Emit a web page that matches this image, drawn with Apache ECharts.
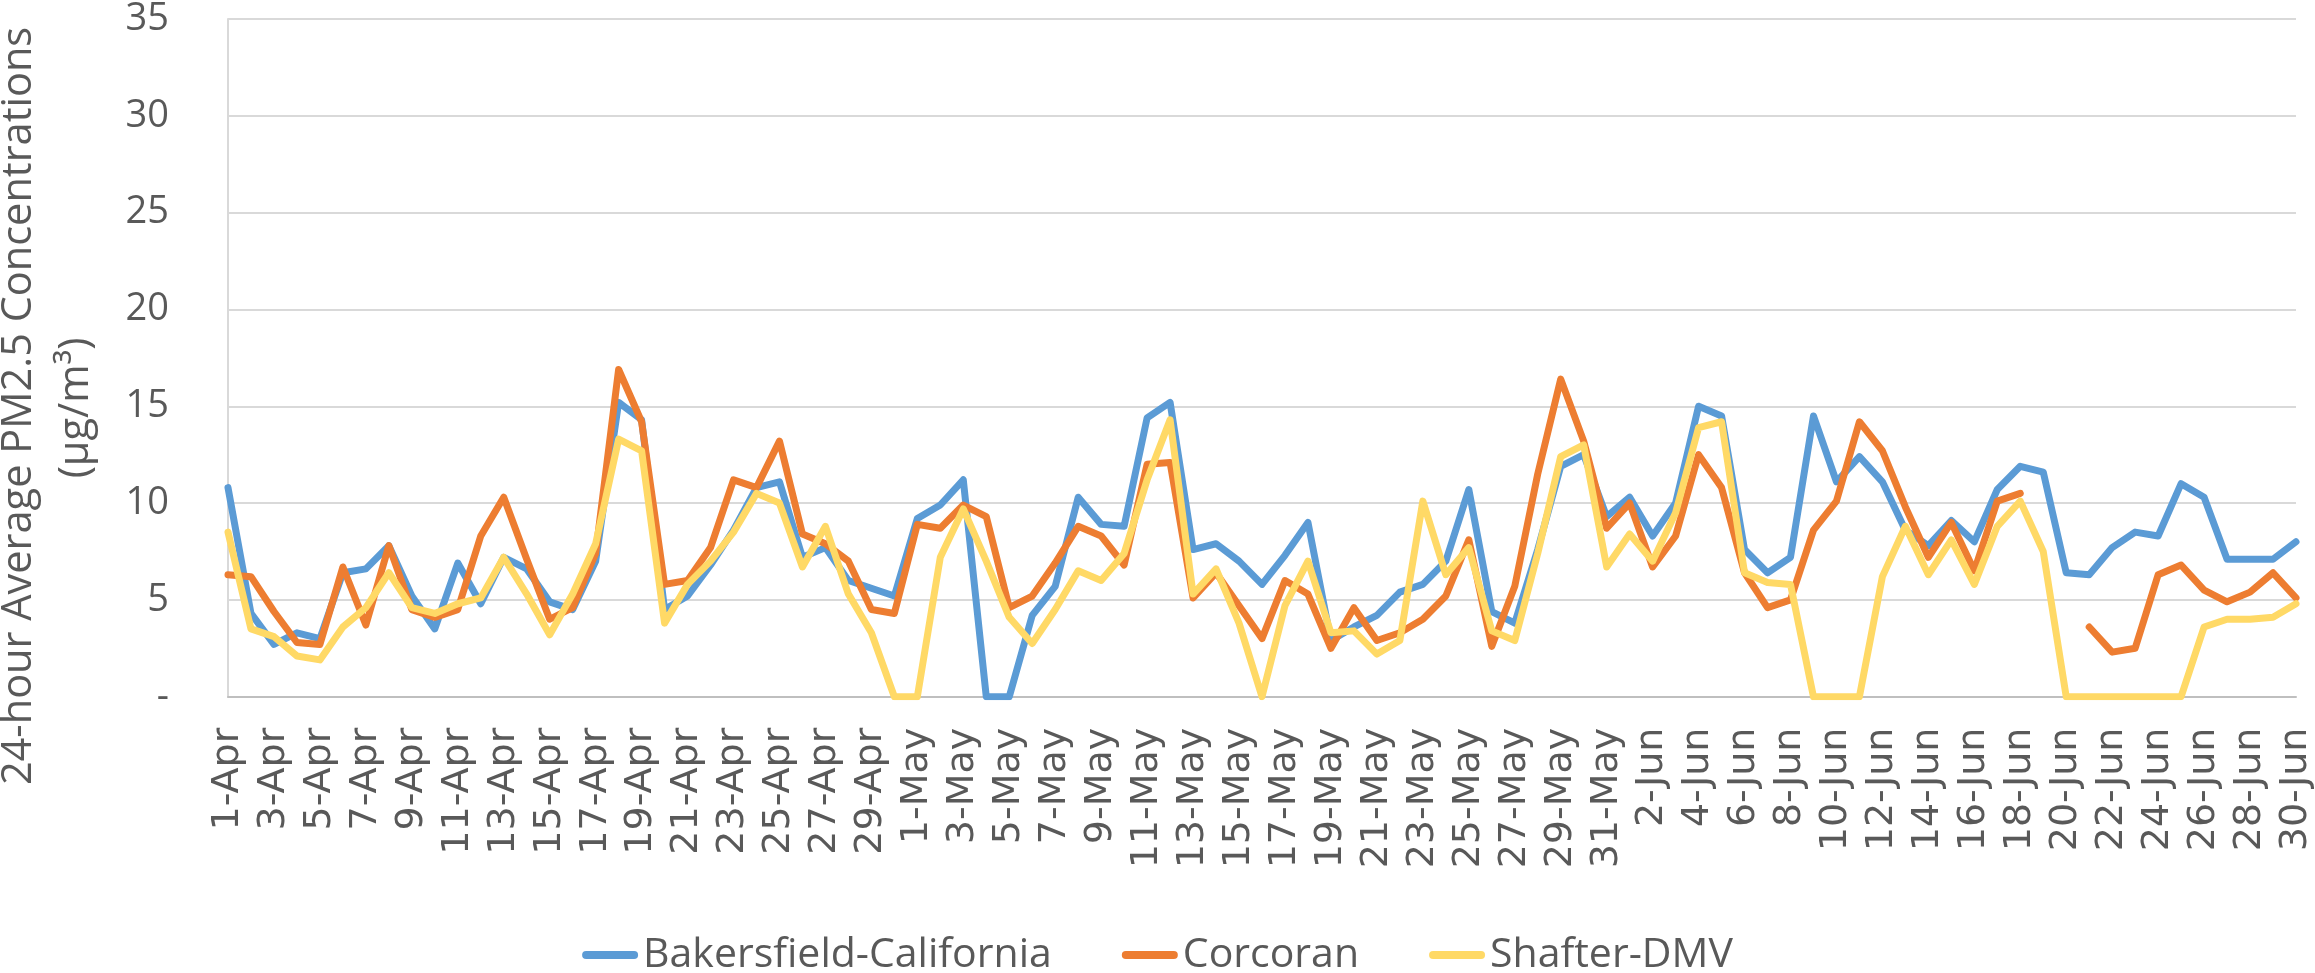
<!DOCTYPE html>
<html>
<head>
<meta charset="utf-8">
<script src="https://cdn.jsdelivr.net/npm/echarts@6/dist/echarts.min.js"></script>
<style>
html,body{margin:0;padding:0;background:#fff;}
#chart{width:2315px;height:973px;}
</style>
</head>
<body>
<div id="chart"></div>
<script>
const categories = [
  "1-Apr","2-Apr","3-Apr","4-Apr","5-Apr","6-Apr","7-Apr","8-Apr","9-Apr","10-Apr",
  "11-Apr","12-Apr","13-Apr","14-Apr","15-Apr","16-Apr","17-Apr","18-Apr","19-Apr","20-Apr",
  "21-Apr","22-Apr","23-Apr","24-Apr","25-Apr","26-Apr","27-Apr","28-Apr","29-Apr","30-Apr",
  "1-May","2-May","3-May","4-May","5-May","6-May","7-May","8-May","9-May","10-May",
  "11-May","12-May","13-May","14-May","15-May","16-May","17-May","18-May","19-May","20-May",
  "21-May","22-May","23-May","24-May","25-May","26-May","27-May","28-May","29-May","30-May","31-May",
  "1-Jun","2-Jun","3-Jun","4-Jun","5-Jun","6-Jun","7-Jun","8-Jun","9-Jun","10-Jun",
  "11-Jun","12-Jun","13-Jun","14-Jun","15-Jun","16-Jun","17-Jun","18-Jun","19-Jun","20-Jun",
  "21-Jun","22-Jun","23-Jun","24-Jun","25-Jun","26-Jun","27-Jun","28-Jun","29-Jun","30-Jun"
];

const bakersfield = [
  10.8,4.3,2.7,3.3,3.0,6.4,6.6,7.8,5.2,3.5,
  6.9,4.8,7.2,6.6,4.9,4.5,7.0,15.2,14.3,4.5,
  5.2,6.8,8.6,10.8,11.1,7.2,7.7,6.0,5.6,5.2,
  9.2,9.9,11.2,0,0,4.2,5.7,10.3,8.9,8.8,
  14.4,15.2,7.6,7.9,7.0,5.8,7.3,9.0,2.9,3.6,
  4.2,5.4,5.8,7.0,10.7,4.4,3.8,7.6,11.9,12.5,9.3,
  10.3,8.3,10.0,15.0,14.5,7.6,6.4,7.2,14.5,11.1,
  12.4,11.1,8.6,7.8,9.1,8.0,10.7,11.9,11.6,6.4,
  6.3,7.7,8.5,8.3,11.0,10.3,7.1,7.1,7.1,8.0
];

const corcoran = [
  6.3,6.2,4.4,2.8,2.7,6.7,3.7,7.8,4.5,4.1,
  4.5,8.3,10.3,7.1,4.0,4.6,7.4,16.9,14.2,5.8,
  6.0,7.7,11.2,10.8,13.2,8.4,7.9,7.0,4.5,4.3,
  8.9,8.7,9.9,9.3,4.6,5.2,6.9,8.8,8.3,6.8,
  12.0,12.1,5.1,6.4,4.7,3.0,6.0,5.3,2.5,4.6,
  2.9,3.3,4.0,5.2,8.1,2.6,5.7,11.5,16.4,13.2,8.7,
  10.0,6.7,8.3,12.5,10.8,6.4,4.6,5.0,8.6,10.1,
  14.2,12.7,9.8,7.2,9.0,6.5,10.1,10.5,null,null,
  3.6,2.3,2.5,6.3,6.8,5.5,4.9,5.4,6.4,5.1
];

const shafter = [
  8.5,3.5,3.1,2.1,1.9,3.6,4.6,6.4,4.6,4.3,
  4.8,5.1,7.2,5.3,3.2,5.3,7.9,13.3,12.7,3.8,
  5.8,7.0,8.5,10.5,10.0,6.7,8.8,5.3,3.3,0,
  0,7.2,9.7,7.0,4.1,2.75,4.5,6.5,6.0,7.4,
  11.2,14.3,5.3,6.6,3.8,0,4.7,7.0,3.3,3.4,
  2.2,2.9,10.1,6.3,7.7,3.4,2.9,7.4,12.4,13.0,6.7,
  8.4,7.0,9.5,13.9,14.2,6.4,5.9,5.8,0,0,
  0,6.2,8.8,6.3,8.1,5.8,8.8,10.1,7.5,0,
  0,0,0,0,0,3.6,4.0,4.0,4.1,4.8
];

const seriesNames = ["Bakersfield-California","Corcoran","Shafter-DMV"];
const yTitleLine1 = "24-hour Average PM2.5 Concentrations";
const yTitleLine2 = "(µg/m³)";

const colors = ["#5B9BD5","#ED7D31","#FFD966"];
const textColor = "#595959";

const chart = echarts.init(document.getElementById('chart'), null, {renderer:'canvas'});

function lineSeries(name, data, color){
  return {
    name: name,
    type: 'line',
    data: data,
    symbol: 'none',
    connectNulls: false,
    smooth: false,
    animation: false,
    lineStyle: {width: 7, color: color, cap: 'round', join: 'round'},
    itemStyle: {color: color}
  };
}

const option = {
  animation: false,
  backgroundColor: '#ffffff',
  color: colors,
  grid: {left: 228, right: 0, top: 17.7, bottom: 276.3, containLabel: false},
  legend: {
    data: seriesNames,
    left: 'center',
    top: 929,
    itemWidth: 56,
    itemHeight: 8,
    itemGap: 70,
    icon: 'path://M4,0 L52,0 A4,4 0 0 1 52,8 L4,8 A4,4 0 0 1 4,0 Z',
    textStyle: {fontFamily: 'Open Sans', fontSize: 41, color: textColor, lineHeight: 42, padding: [0,0,0,0]}
  },
  xAxis: {
    type: 'category',
    data: categories,
    boundaryGap: false,
    axisLine: {show: true, lineStyle: {color: '#BFBFBF', width: 2}},
    axisTick: {show: false},
    splitLine: {show: false},
    axisLabel: {
      interval: 1,
      rotate: 90,
      margin: 31,
      fontFamily: 'DejaVu Sans',
      fontSize: 38,
      color: textColor,
      hideOverlap: false
    }
  },
  yAxis: {
    type: 'value',
    min: 0,
    max: 35,
    interval: 5,
    axisLine: {show: true, lineStyle: {color: '#D9D9D9', width: 2}},
    axisTick: {show: false},
    splitLine: {show: true, lineStyle: {color: '#D9D9D9', width: 2}},
    axisLabel: {
      margin: 59,
      fontFamily: 'Open Sans',
      fontSize: 38,
      color: textColor,
      formatter: function(v){ return v === 0 ? '-' : String(v); }
    }
  },
  graphic: [
    {
      type: 'text',
      x: 19, y: 406,
      rotation: Math.PI/2,
      style: {
        text: yTitleLine1,
        fontFamily: 'Open Sans',
        fontSize: 41.5,
        fill: textColor,
        align: 'center',
        verticalAlign: 'middle'
      }
    },
    {
      type: 'text',
      x: 76, y: 408,
      rotation: Math.PI/2,
      style: {
        text: yTitleLine2,
        fontFamily: 'Open Sans',
        fontSize: 41.5,
        fill: textColor,
        align: 'center',
        verticalAlign: 'middle'
      }
    }
  ],
  series: [
    lineSeries(seriesNames[0], bakersfield, colors[0]),
    lineSeries(seriesNames[1], corcoran, colors[1]),
    lineSeries(seriesNames[2], shafter, colors[2])
  ]
};

chart.setOption(option);
</script>
</body>
</html>
